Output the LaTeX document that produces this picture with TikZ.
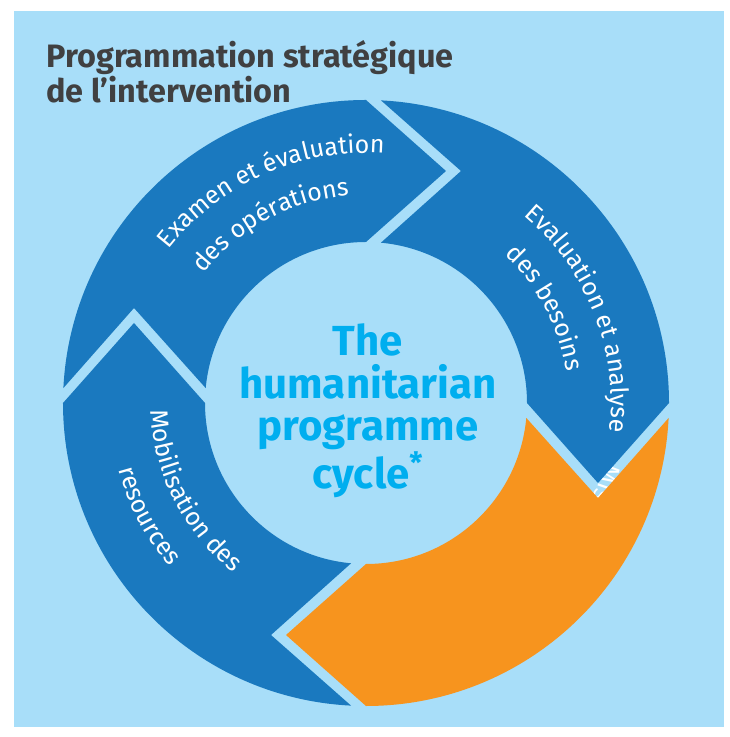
\documentclass[tikz,border=0pt]{standalone}
\usepackage{fontspec}
\setmainfont{Fira Sans}
\newfontfamily\labelfont{Fira Sans}
\usetikzlibrary{calc,decorations.text}

\definecolor{skyback}{RGB}{168,222,249}
\definecolor{ringblue}{RGB}{26,121,191}
\definecolor{ringorange}{RGB}{247,148,30}
\definecolor{titlegray}{RGB}{64,64,65}
\definecolor{cyclecyan}{RGB}{0,174,239}

\newcommand{\ringfont}{\labelfont\fontsize{12.5}{13}\selectfont}

\begin{document}
\begin{tikzpicture}[
    x = 0.5pt, y = 0.5pt,
    heading/.style = {
      anchor = north west,
      inner sep = 0,
      align = left,
      text = titlegray,
      font = \fontsize{16.2}{15.2}\selectfont\bfseries,
    },
    hub/.style = {
      inner sep = 0,
      align = center,
      text = cyclecyan,
      font = \fontsize{21}{21.25}\selectfont\bfseries,
    },
    arcline/.style = {
      decorate,
      decoration = {text along path, text color = white, text align = left},
    },
  ]
  \useasboundingbox (-366,-334) rectangle (363,403);
  \fill[white] (-366,-334) rectangle (363,403);
  \fill[skyback] (-352,-324) rectangle (358,392);

  % label of the orange step, mostly covered by the ring
  \path[arcline, decoration = {text = {|\ringfont|Mise}}]
    (-14:246) arc[start angle = -14, end angle = -60, radius = 246];

  % ring steps: notch at \from, arrow head at \from-90
  \foreach \from/\col in {180/ringblue, 90/ringblue, 0/ringorange, -90/ringblue}
    \fill[\col] ({\from-5.32}:161) -- ($(\from:232)+({\from-90}:95)$)
      -- ({\from-2.83}:303) arc[start angle = \from-2.83, end angle = \from-90, radius = 303]
      -- ($({\from-90}:232)+({\from-180}:80)$)
      -- ({\from-90}:161) arc[start angle = \from-90, end angle = \from-5.32, radius = 161]
      -- cycle;

  \path[arcline, decoration = {text = {|\ringfont|Examen et évaluation}}]
    (142:250) arc[start angle = 142, end angle = 40, radius = 250];
  \path[arcline, decoration = {text = {|\ringfont|des opérations}}]
    (141.5:208) arc[start angle = 141.5, end angle = 40, radius = 208];

  \path[arcline, decoration = {text = {|\ringfont|Evaluation et analyse}}]
    (50:245) arc[start angle = 50, end angle = -40, radius = 245];
  \path[arcline, decoration = {text = {|\ringfont|des besoins}}]
    (47:203) arc[start angle = 47, end angle = -40, radius = 203];

  \path[arcline, decoration = {text = {|\ringfont|Mobilisation des}}]
    (182:215) arc[start angle = 182, end angle = 260, radius = 215];
  \path[arcline, decoration = {text = {|\ringfont|resources}}]
    (195:256) arc[start angle = 195, end angle = 260, radius = 256];

  \node[heading] (title) at (-320,363) {Programmation stratégique\\de l’intervention};
  \node[hub] (cycle) at (2,-8) {The\\humanitarian\\programme\\cycle\textsuperscript{*}};
\end{tikzpicture}
\end{document}
